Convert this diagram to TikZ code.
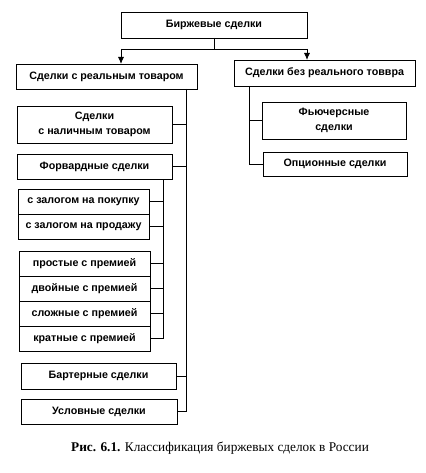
\documentclass[tikz,border=0pt]{standalone}
\usepackage{fontspec}
\setmainfont{Liberation Serif}
\setsansfont{Liberation Sans}
\usetikzlibrary{positioning}
\usetikzlibrary{calc}
\usetikzlibrary{arrows.meta}

\begin{document}
\begin{tikzpicture}[
x=1pt, y=-1pt,
line width=0.9pt
]

\tikzstyle{b} = [draw, shape=rectangle, outer sep=0pt, inner sep=1pt, align=center, font=\sffamily\bfseries\fontsize{10.7}{14.5}\selectfont]
\tikzstyle{s} = [b, minimum width=131pt, minimum height=25pt]
\tikzstyle{a} = [-{Latex[length=7pt,width=6pt]}]
\useasboundingbox (0,0) rectangle (425,473);

\node[b, minimum width=186pt, minimum height=26pt] (birzh) at (214,25) {Биржевые сделки};
\node[b, minimum width=181pt, minimum height=25pt] (real) at (106.5,76.5) {Сделки с реальным товаром};
\node[b, minimum width=181pt, minimum height=26pt] (noreal) at (324.5,73) {Сделки без реального товвра};

\node[b, minimum width=155pt, minimum height=37pt] (cash) at (94.5,124.5) {Сделки\\с наличным товаром};
\node[b, minimum width=155pt, minimum height=25pt] (fwd) at (94.5,166.5) {Форвардные сделки};
\node[s] (z1) at (83.5,201.5) {с залогом на покупку};
\node[s, below=0pt of z1] (z2) {с залогом на продажу};
\node[s] (p1) at (84.5,263.5) {простые с премией};
\node[s, below=0pt of p1] (p2) {двойные с премией};
\node[s, below=0pt of p2] (p3) {сложные с премией};
\node[s, below=0pt of p3] (p4) {кратные с премией};
\node[b, minimum width=155pt, minimum height=26pt] (barter) at (98.5,376) {Бартерные сделки};
\node[b, minimum width=156pt, minimum height=25pt] (uslov) at (99,411.5) {Условные сделки};

\node[b, minimum width=144pt, minimum height=37pt] (fut) at (334,120.5) {Фьючерсные\\сделки};
\node[b, minimum width=144pt, minimum height=24pt] (opt) at (335,164) {Опционные сделки};

\draw (birzh.south) -- ++(0,11) coordinate (sp);
\draw (sp -| birzh.south west) -- (sp -| birzh.south east);
\draw[a] (sp -| birzh.south west) -- (real.north -| birzh.south west);
\draw[a] (sp -| birzh.south east) -- (noreal.north -| birzh.south east);

\coordinate (lt) at ([xshift=-11pt]real.south east);
\draw (lt) |- (uslov.east);
\draw (lt |- cash.east) -- (cash.east);
\draw (lt |- fwd.east) -- (fwd.east);
\draw (lt |- barter.east) -- (barter.east);

\coordinate (ft) at ([xshift=-9pt]fwd.south east);
\draw (ft) |- (p4.east);
\draw (ft |- z1.east) -- (z1.east);
\draw (ft |- z2.east) -- (z2.east);
\draw (ft |- p1.east) -- (p1.east);
\draw (ft |- p2.east) -- (p2.east);
\draw (ft |- p3.east) -- (p3.east);

\coordinate (rt) at ([xshift=15pt]noreal.south west);
\draw (rt) |- (opt.west);
\draw (rt |- fut.west) -- (fut.west);

\node[font=\fontsize{13.3}{16}\selectfont] (cap) at (220,448) {\textbf{Рис. 6.1.} Классификация биржевых сделок в России};
\end{tikzpicture}
\end{document}
